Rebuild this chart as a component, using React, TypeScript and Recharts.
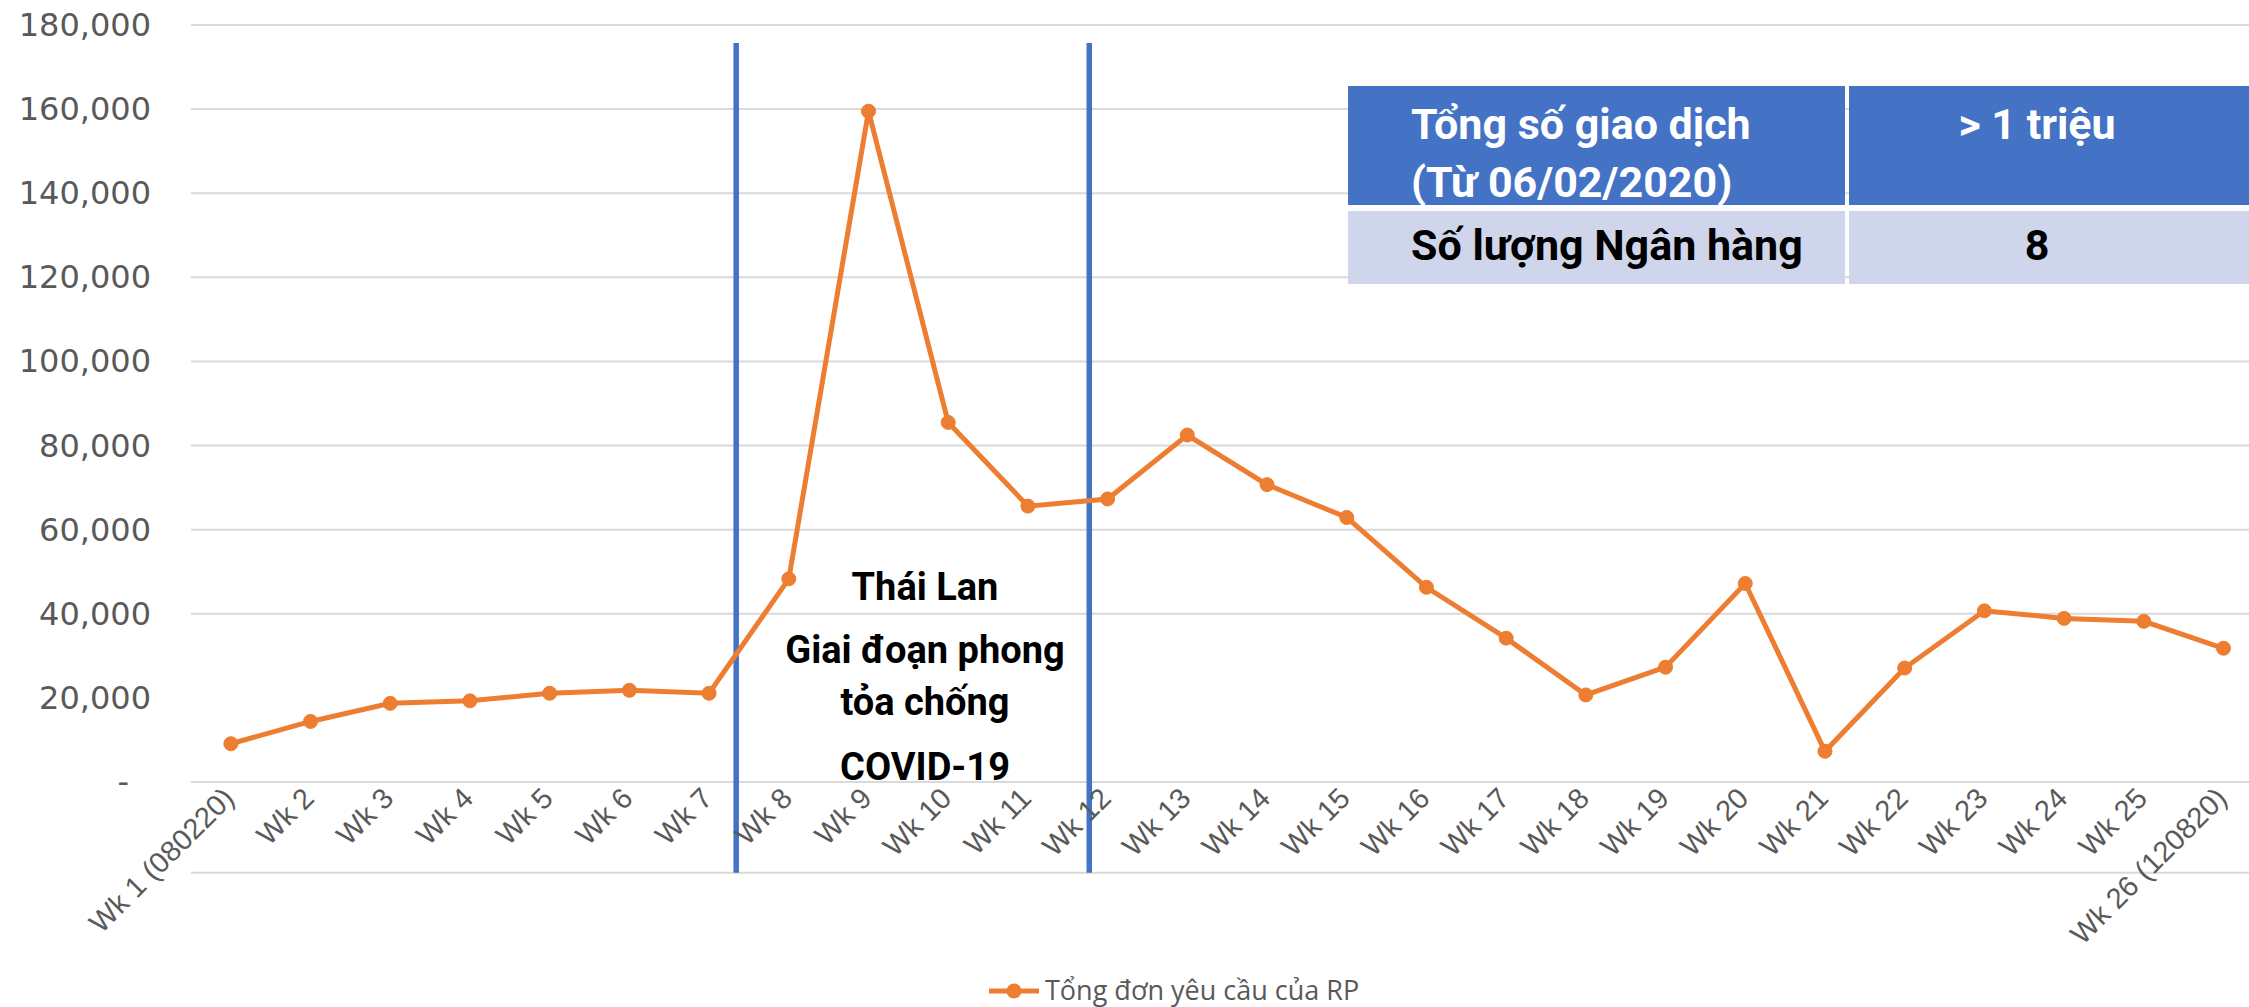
import React from 'react';
import { LineChart, Line, XAxis, YAxis, CartesianGrid, ReferenceLine, Legend } from 'recharts';

const weeks = [
  'Wk 1 (080220)', 'Wk 2', 'Wk 3', 'Wk 4', 'Wk 5', 'Wk 6', 'Wk 7', 'Wk 8', 'Wk 9',
  'Wk 10', 'Wk 11', 'Wk 12', 'Wk 13', 'Wk 14', 'Wk 15', 'Wk 16', 'Wk 17', 'Wk 18',
  'Wk 19', 'Wk 20', 'Wk 21', 'Wk 22', 'Wk 23', 'Wk 24', 'Wk 25', 'Wk 26 (120820)',
];

const requests = [
  9100, 14400, 18700, 19300, 21100, 21800, 21100, 48300, 159500,
  85500, 65600, 67300, 82500, 70700, 62900, 46300, 34200, 20700,
  27300, 47200, 7300, 27100, 40700, 38900, 38200, 31800,
];

const yTicks = [0, 20000, 40000, 60000, 80000, 100000, 120000, 140000, 160000, 180000];
// the 20,000 gridline is not drawn in the original
const gridValues = [0, 40000, 60000, 80000, 100000, 120000, 140000, 160000, 180000];

// lockdown period markers (between week positions)
const lockdownStart = 7.34;
const lockdownEnd = 11.77;
const bottomRule = -21600;
const markerTop = 175700;

const seriesName = 'Tổng đơn yêu cầu của RP';
const noteLines = ['Thái Lan', 'Giai đoạn phong', 'tỏa chống', 'COVID-19'];
const headerLeft = ['Tổng số giao dịch', '(Từ 06/02/2020)'];
const headerRight = '> 1 triệu';
const rowLeft = 'Số lượng Ngân hàng';
const rowRight = '8';

const data = weeks.map((week, i) => ({ idx: i + 1, week, value: requests[i] }));

const XTick = ({ x, y, payload }: any) => {
  const px = x + 5;
  const py = y + 10;
  return (
    <text
      x={px}
      y={py}
      transform={`rotate(-45, ${px}, ${py})`}
      textAnchor="end"
      fill="#595959"
      fontSize={29}
      fontFamily="Liberation Sans, Arial, sans-serif"
    >
      {weeks[payload.value - 1]}
    </text>
  );
};

const YTick = ({ x, y, payload }: any) => (
  <text
    x={payload.value === 0 ? x - 22 : x}
    y={y}
    dy={11}
    textAnchor="end"
    fill="#595959"
    fontSize={32}
    fontFamily="DejaVu Sans, sans-serif"
  >
    {payload.value === 0 ? '-' : payload.value.toLocaleString('en-US')}
  </text>
);

const renderLegend = () => (
  <svg width={420} height={46}>
    <line x1={4} x2={54} y1={23} y2={23} stroke="#ED7D31" strokeWidth={5} />
    <circle cx={29} cy={23} r={7.5} fill="#ED7D31" />
    <text x={60} y={23} dy={9} fontSize={27} fill="#595959" fontFamily="Open Sans, sans-serif">
      {seriesName}
    </text>
  </svg>
);

const App: React.FC = () => {
  return (
    <div style={{ position: 'absolute', left: 0, top: 0, width: 2249, height: 1007, background: '#fff' }}>
      <LineChart
        width={2249}
        height={1007}
        data={data}
        margin={{ top: 25, right: 0, left: 0, bottom: 29 }}
      >
        <CartesianGrid vertical={false} stroke="#D9D9D9" strokeWidth={2} horizontalValues={gridValues} />
        <XAxis
          dataKey="idx"
          type="number"
          domain={[0.5, 26.32]}
          ticks={weeks.map((_, i) => i + 1)}
          interval={0}
          allowDataOverflow
          axisLine={false}
          tickLine={false}
          height={150}
          tick={<XTick />}
        />
        <YAxis
          width={191}
          domain={[0, 180000]}
          ticks={yTicks}
          interval={0}
          axisLine={false}
          tickLine={false}
          tickMargin={34}
          tick={<YTick />}
        />
        <ReferenceLine y={bottomRule} stroke="#D9D9D9" strokeWidth={2} ifOverflow="visible" />
        <ReferenceLine
          segment={[{ x: lockdownStart, y: bottomRule }, { x: lockdownStart, y: markerTop }]}
          stroke="#4472C4"
          strokeWidth={5.5}
          ifOverflow="visible"
        />
        <ReferenceLine
          segment={[{ x: lockdownEnd, y: bottomRule }, { x: lockdownEnd, y: markerTop }]}
          stroke="#4472C4"
          strokeWidth={5.5}
          ifOverflow="visible"
        />
        <Line
          dataKey="value"
          name={seriesName}
          stroke="#ED7D31"
          strokeWidth={5}
          dot={{ r: 7, fill: '#ED7D31', stroke: '#ED7D31', strokeWidth: 1 }}
          isAnimationActive={false}
        />
        <Legend
          verticalAlign="bottom"
          content={renderLegend}
          wrapperStyle={{ left: 985, top: 968, width: 420, height: 46 }}
        />
      </LineChart>

      {/* table box and lockdown note */}
      <svg
        width={2249}
        height={1007}
        style={{ position: 'absolute', left: 0, top: 0, pointerEvents: 'none' }}
        fontFamily="Roboto, sans-serif"
        fontWeight={700}
      >
        <rect x={1348} y={86} width={497} height={119} fill="#4472C4" />
        <rect x={1849} y={86} width={400} height={119} fill="#4472C4" />
        <rect x={1348} y={211} width={497} height={73} fill="#CFD5EA" />
        <rect x={1849} y={211} width={400} height={73} fill="#CFD5EA" />
        <text x={1411} y={139} fontSize={43} fill="#fff">{headerLeft[0]}</text>
        <text x={1411} y={197} fontSize={43} fill="#fff">{headerLeft[1]}</text>
        <text x={2037} y={139} fontSize={43} fill="#fff" textAnchor="middle">{headerRight}</text>
        <text x={1411} y={260} fontSize={43} fill="#000">{rowLeft}</text>
        <text x={2037} y={260} fontSize={43} fill="#000" textAnchor="middle">{rowRight}</text>

        <text x={925} y={600} fontSize={38} fill="#000" textAnchor="middle">{noteLines[0]}</text>
        <text x={925} y={663} fontSize={38} fill="#000" textAnchor="middle">{noteLines[1]}</text>
        <text x={925} y={715} fontSize={38} fill="#000" textAnchor="middle">{noteLines[2]}</text>
        <text x={925} y={780} fontSize={38} fill="#000" textAnchor="middle">{noteLines[3]}</text>
      </svg>
    </div>
  );
};

export default App;
